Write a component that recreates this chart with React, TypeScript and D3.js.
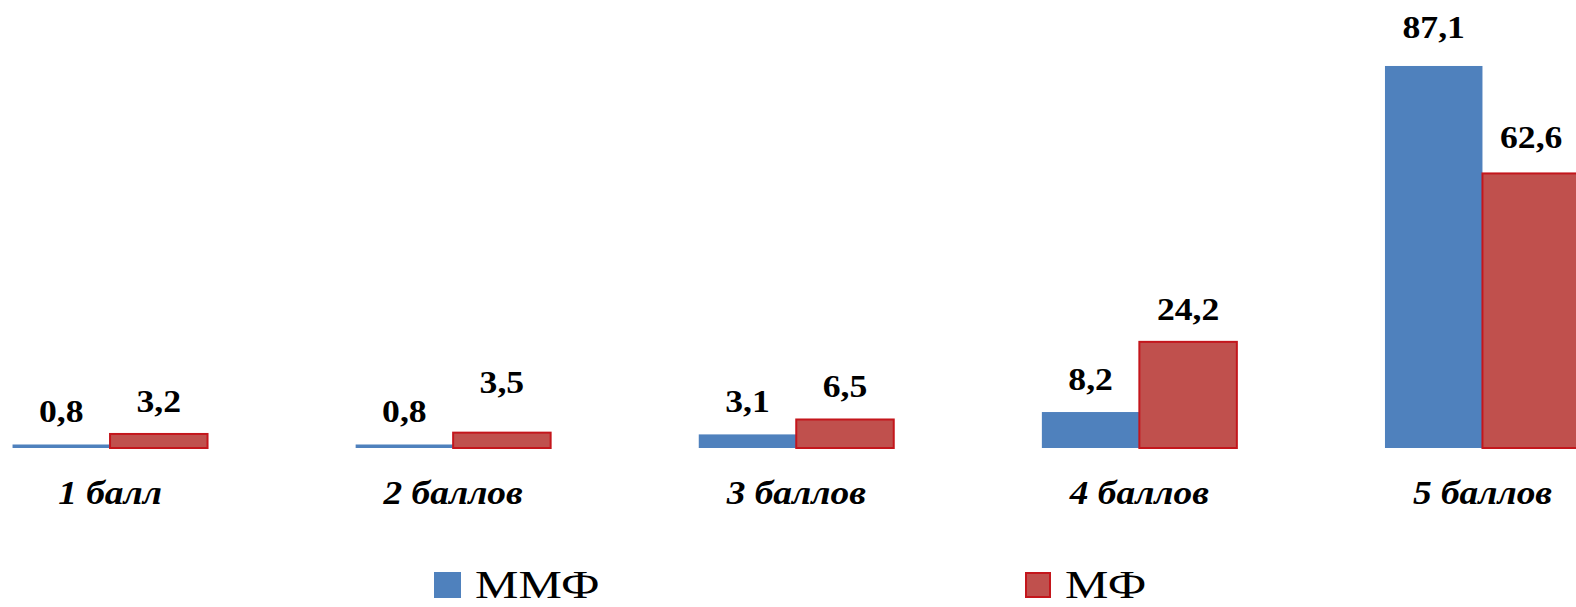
import React from "react";
import * as d3 from "d3";

const categories = ["1 балл", "2 баллов", "3 баллов", "4 баллов", "5 баллов"];
const seriesNames = ["ММФ", "МФ"];
const mmfValues = [0.8, 0.8, 3.1, 8.2, 87.1];
const mfValues = [3.2, 3.5, 6.5, 24.2, 62.6];
const valueLabelsMMF = ["0,8", "0,8", "3,1", "8,2", "87,1"];
const valueLabelsMF = ["3,2", "3,5", "6,5", "24,2", "62,6"];

const W = 1576;
const H = 607;
const BLUE = "#4F81BD";
const RED = "#C0504D";
const RED_STROKE = "#C4161C";
const FONT = "'Liberation Serif', 'Times New Roman', serif";

// manual label nudges seen in the original (series index, category index) -> extra lift in px
const labelLift: Record<string, number> = { "1-1": 18, "0-4": 6, "1-4": 3 };

function SText({ x, y, sx, children, ...rest }: any) {
  return (
    <text transform={`translate(${x},${y}) scale(${sx},1)`} {...rest}>
      {children}
    </text>
  );
}

export default function App() {
  const x0 = d3
    .scaleBand<string>()
    .domain(categories)
    .range([-61.5, 1654])
    .paddingInner(0.4317)
    .paddingOuter(0.2158);
  const x1 = d3
    .scaleBand<string>()
    .domain(seriesNames)
    .range([0, x0.bandwidth()])
    .padding(0);
  const y = d3.scaleLinear().domain([0, 100]).range([448, 9.4]);

  const series = [
    { name: seriesNames[0], values: mmfValues, labels: valueLabelsMMF, fill: BLUE, stroke: "none", sw: 0 },
    { name: seriesNames[1], values: mfValues, labels: valueLabelsMF, fill: RED, stroke: RED_STROKE, sw: 2 },
  ];

  return (
    <svg
      width={W}
      height={H}
      style={{ position: "absolute", left: 0, top: 0, background: "#fff" }}
      fontFamily={FONT}
    >
      <rect x={0} y={0} width={W} height={H} fill="#fff" />
      {series.map((s, si) => (
        <g key={s.name}>
          {categories.map((c, i) => {
            const bx = (x0(c) as number) + (x1(s.name) as number);
            const bw = x1.bandwidth();
            const top = y(s.values[i]);
            const lift = labelLift[`${si}-${i}`] || 0;
            return (
              <g key={c}>
                <rect
                  x={bx}
                  y={top}
                  width={bw}
                  height={y(0) - top}
                  fill={s.fill}
                  stroke={s.stroke}
                  strokeWidth={s.sw}
                />
                <SText
                  x={bx + bw / 2}
                  y={top - 22 - lift}
                  sx={1.15}
                  textAnchor="middle"
                  fontSize={31}
                  fontWeight="bold"
                  fill="#000"
                >
                  {s.labels[i]}
                </SText>
              </g>
            );
          })}
        </g>
      ))}
      {categories.map((c) => (
        <SText
          key={c}
          x={(x0(c) as number) + x0.bandwidth() / 2}
          y={504}
          sx={1.1}
          textAnchor="middle"
          fontSize={34}
          fontWeight="bold"
          fontStyle="italic"
          fill="#000"
        >
          {c}
        </SText>
      ))}
      {/* legend */}
      <g>
        <rect x={434} y={572} width={27} height={26} fill={BLUE} />
        <SText x={475} y={598} sx={1.22} fontSize={40} fill="#000">
          {seriesNames[0]}
        </SText>
        <rect x={1026} y={573} width={24} height={24} fill={RED} stroke={RED_STROKE} strokeWidth={2} />
        <SText x={1065} y={598} sx={1.22} fontSize={40} fill="#000">
          {seriesNames[1]}
        </SText>
      </g>
    </svg>
  );
}
